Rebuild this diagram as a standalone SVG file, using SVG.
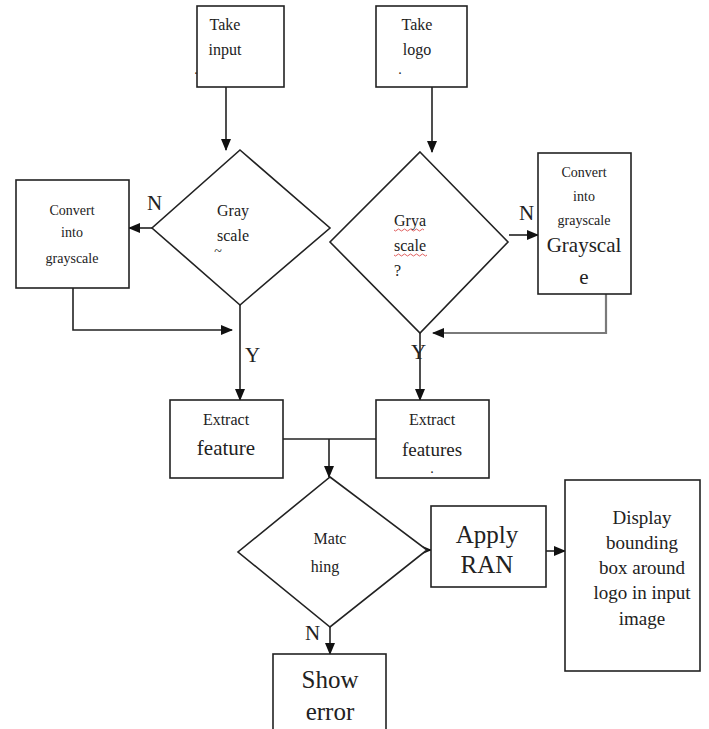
<svg xmlns="http://www.w3.org/2000/svg" width="709" height="729" viewBox="0 0 709 729">
<defs>
<marker id="ah" markerWidth="12" markerHeight="10" refX="11" refY="5" orient="auto" markerUnits="userSpaceOnUse"><path d="M0,0 L12,5 L0,10 Z" fill="#111"/></marker>
<style>
text{font-family:'Liberation Serif','DejaVu Serif','Times New Roman',serif}
.box{fill:#fff;stroke:#222;stroke-width:1.6}
.t{fill:#222;text-anchor:middle}
.s14{font-size:14px}.s16{font-size:16px}.s19{font-size:19px}.s21{font-size:21px}.s24{font-size:25px}
.c{fill:none;stroke:#222;stroke-width:1.6}
.g{fill:none;stroke:#7a7a7a;stroke-width:2.2}
.lbl{font-size:21px;fill:#222}
.sq{fill:none;stroke:#e06060;stroke-width:1}
</style>
</defs>
<rect width="709" height="729" fill="#fff"/>
<g id="connectors">
<path class="c" d="M226,87 V150" marker-end="url(#ah)"/>
<path class="c" d="M432,87 V152" marker-end="url(#ah)"/>
<path class="c" d="M152,228 H129" marker-end="url(#ah)"/>
<path class="c" d="M73,288 V330 H232" marker-end="url(#ah)"/>
<path class="c" d="M240,305 V400" marker-end="url(#ah)"/>
<path class="c" d="M509,235 H538" marker-end="url(#ah)"/>
<path class="g" d="M606,294 V333 H433" marker-end="url(#ah)"/>
<path class="c" d="M420,333 V400" marker-end="url(#ah)"/>
<path class="c" d="M283,439 H376"/>
<path class="c" d="M329,439 V477" marker-end="url(#ah)"/>
<path class="c" d="M418,550 H431" marker-end="url(#ah)"/>
<path class="c" d="M546,551 H565" marker-end="url(#ah)"/>
<path class="c" d="M330,627 V654" marker-end="url(#ah)"/>
<text class="lbl" x="147" y="210">N</text>
<text class="lbl" x="245" y="362">Y</text>
<text class="lbl" x="519" y="220">N</text>
<text class="lbl" x="411" y="359">Y</text>
<text class="lbl" x="305" y="640">N</text>
</g>
<g id="take-input">
<rect class="box" x="197" y="6" width="87" height="81"/>
<text class="t s16" x="225" y="30">Take</text>
<text class="t s16" x="225" y="55">input</text>
<text class="t s14" x="196" y="74">.</text>
</g>
<g id="take-logo">
<rect class="box" x="376" y="6" width="91" height="81"/>
<text class="t s16" x="417" y="30">Take</text>
<text class="t s16" x="417" y="55">logo</text>
<text class="t s14" x="400" y="74">.</text>
</g>
<g id="gray-decision">
<polygon class="box" points="240,150 330,228 240,305 152,228"/>
<text class="t s16" x="233" y="216">Gray</text>
<text class="t s16" x="233" y="241">scale</text>
<text class="t s14" x="218" y="256">~</text>
</g>
<g id="convert-left">
<rect class="box" x="16" y="180" width="113" height="108"/>
<text class="t s14" x="72" y="215">Convert</text>
<text class="t s14" x="72" y="237">into</text>
<text class="t s14" x="72" y="263">grayscale</text>
</g>
<g id="grya-decision">
<polygon class="box" points="420,152 508,242 420,333 330,242"/>
<text class="t s16" x="394" y="226" style="text-anchor:start">Grya</text>
<text class="t s16" x="394" y="251" style="text-anchor:start">scale</text>
<text class="t s16" x="394" y="276" style="text-anchor:start">?</text>
<path class="sq" d="M394,230 q1.5,2 3,0 t3,0 t3,0 t3,0 t3,0 t3,0 t3,0 t3,0 t3,0 t3,0"/>
<path class="sq" d="M394,255 q1.5,2 3,0 t3,0 t3,0 t3,0 t3,0 t3,0 t3,0 t3,0 t3,0 t3,0 t3,0"/>
</g>
<g id="convert-right">
<rect class="box" x="538" y="153" width="93" height="141"/>
<text class="t s14" x="584" y="177">Convert</text>
<text class="t s14" x="584" y="201">into</text>
<text class="t s14" x="584" y="225">grayscale</text>
<text class="t s21" x="584" y="252">Grayscal</text>
<text class="t s21" x="584" y="284">e</text>
</g>
<g id="extract-feature">
<rect class="box" x="170" y="400" width="113" height="78"/>
<text class="t s16" x="226" y="425">Extract</text>
<text class="t s21" x="226" y="455">feature</text>
</g>
<g id="extract-features">
<rect class="box" x="376" y="400" width="113" height="78"/>
<text class="t s16" x="432" y="425">Extract</text>
<text class="t s19" x="432" y="456">features</text>
<text class="t s14" x="432" y="473">.</text>
</g>
<g id="matching">
<polygon class="box" points="330,477 427,550 330,627 238,552"/>
<text class="t s16" x="330" y="544">Matc</text>
<text class="t s16" x="325" y="572">hing</text>
</g>
<g id="apply-ran">
<rect class="box" x="431" y="506" width="115" height="81"/>
<text class="t s24" x="487" y="543">Apply</text>
<text class="t s24" x="487" y="573">RAN</text>
</g>
<g id="display">
<rect class="box" x="565" y="480" width="135" height="191"/>
<text class="t s19" x="642" y="524">Display</text>
<text class="t s19" x="642" y="549">bounding</text>
<text class="t s19" x="642" y="574">box around</text>
<text class="t s19" x="642" y="599">logo in input</text>
<text class="t s19" x="642" y="625">image</text>
</g>
<g id="show-error">
<rect class="box" x="273" y="654" width="113" height="80"/>
<text class="t s24" x="330" y="688">Show</text>
<text class="t s24" x="330" y="720">error</text>
</g>
</svg>
